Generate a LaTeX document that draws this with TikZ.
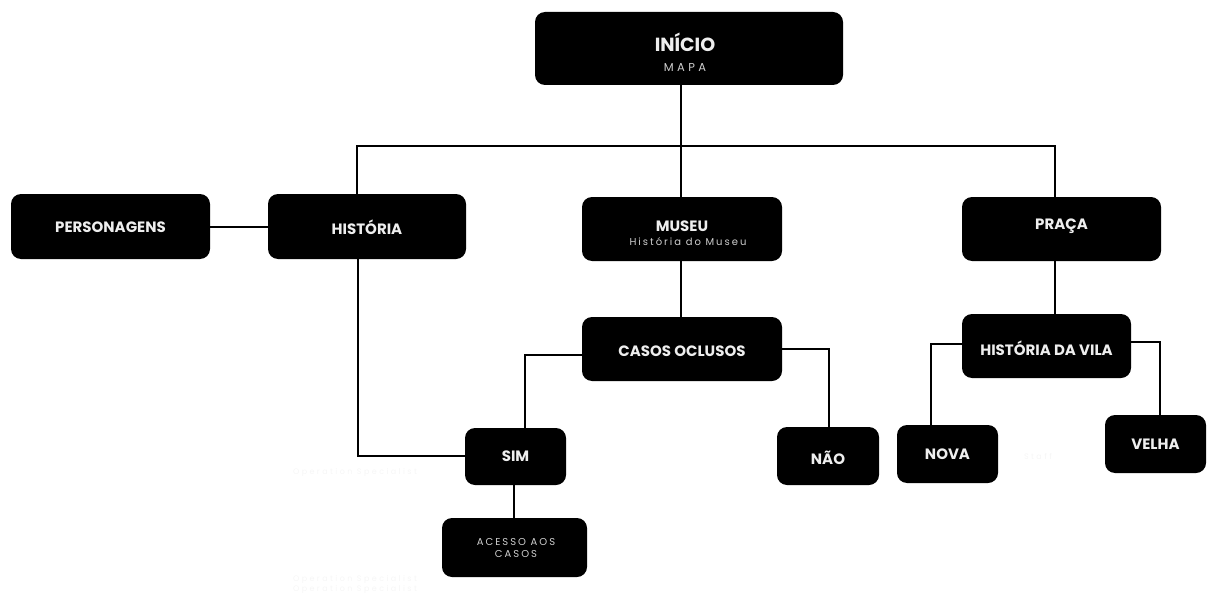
\documentclass[tikz,border=0pt]{standalone}
\usepackage{fontspec}
\setmainfont{Poppins}
\definecolor{lbl}{HTML}{EEEEEE}
\definecolor{sub}{HTML}{CFCFCF}
\definecolor{faint}{HTML}{F6F6F6}
\begin{document}
\begin{tikzpicture}[x=1pt,y=-1pt,
  box/.style={fill=black, rounded corners=10pt, inner sep=0pt},
  title/.style={text=lbl, font=\fontsize{15}{15}\selectfont\bfseries, inner sep=0pt},
  subt/.style={text=sub, font=\fontsize{10}{12}\selectfont\addfontfeatures{LetterSpace=20}, inner sep=0pt, align=center},
  ghost/.style={text=faint, font=\fontsize{8}{10}\selectfont\addfontfeatures{LetterSpace=30}, inner sep=0pt, align=center},
  conn/.style={draw=black, line width=2pt}]
\useasboundingbox (0,0) rectangle (1207,599);

% boxes
\node[box, minimum width=308pt, minimum height=73pt] (inicio) at (689,48.5) {};
\node[box, minimum width=199pt, minimum height=65pt] (personagens) at (110.5,226.5) {};
\node[box, minimum width=198pt, minimum height=65pt] (historia) at (367,226.5) {};
\node[box, minimum width=200pt, minimum height=64pt] (museu) at (682,229) {};
\node[box, minimum width=199pt, minimum height=64pt] (praca) at (1061.5,229) {};
\node[box, minimum width=200pt, minimum height=64pt] (casos) at (682,349) {};
\node[box, minimum width=169pt, minimum height=64pt] (vila) at (1046.5,346) {};
\node[box, minimum width=101pt, minimum height=57pt] (sim) at (515.5,456.5) {};
\node[box, minimum width=102pt, minimum height=58pt] (nao) at (828,456) {};
\node[box, minimum width=101pt, minimum height=58pt] (nova) at (947.5,454) {};
\node[box, minimum width=101pt, minimum height=58pt] (velha) at (1155.5,444) {};
\node[box, minimum width=145pt, minimum height=59pt] (acesso) at (514.5,547.5) {};

% labels
\node[title, font=\fontsize{19}{19}\selectfont\bfseries] (inicioT) at (685,42) {INÍCIO};
\node[subt, font=\fontsize{11.5}{12}\selectfont\addfontfeatures{LetterSpace=30}] (inicioS) at (685,67) {MAPA};
\node[title] (personagensT) at (110.5,227.5) {PERSONAGENS};
\node[title] (historiaT) at (367,227.5) {HISTÓRIA};
\node[title] (museuT) at (682,226) {MUSEU};
\node[subt] (museuS) at (688,242) {História do Museu};
\node[title] (pracaT) at (1061.5,226) {PRAÇA};
\node[title] (casosT) at (682,351.5) {CASOS OCLUSOS};
\node[title] (vilaT) at (1046.5,348) {HISTÓRIA DA VILA};
\node[title] (simT) at (515.5,456) {SIM};
\node[title] (naoT) at (828,458) {NÃO};
\node[title] (novaT) at (947.5,454.5) {NOVA};
\node[title] (velhaT) at (1155.5,444) {VELHA};
\node[subt] (acessoT) at (516,547.5) {ACESSO AOS\\CASOS};

% faint texts
\node[ghost] (g1) at (355,472) {Operation Specialist};
\node[ghost] (g2) at (355,584) {Operation Specialist\\Operation Specialist};
\node[ghost] (g3) at (1038,456) {Staff};

% connector points
\coordinate (hL) at (357,146);
\coordinate (hM) at (681,146);
\coordinate (hR) at (1055,146);
\coordinate (cL) at (525,355);
\coordinate (cR) at (829,349);
\coordinate (hs) at (358,456);
\coordinate (vL) at (931,344);
\coordinate (vR) at (1160,342);
\coordinate (sa) at (514,0);

% connectors
\draw[conn] (inicio.south -| hM) -- (museu.north -| hM);
\draw[conn] (historia.north -| hL) -- (hL) -- (hR) -- (praca.north -| hR);
\draw[conn] (personagens.east) -- (historia.west);
\draw[conn] (museu.south -| hM) -- (casos.north -| hM);
\draw[conn] (casos.west |- cL) -- (cL) -- (sim.north -| cL);
\draw[conn] (casos.east |- cR) -- (cR) -- (nao.north -| cR);
\draw[conn] (historia.south -| hs) -- (hs) -- (sim.west |- hs);
\draw[conn] (sim.south -| sa) -- (acesso.north -| sa);
\draw[conn] (praca.south -| hR) -- (vila.north -| hR);
\draw[conn] (vila.west |- vL) -- (vL) -- (nova.north -| vL);
\draw[conn] (vila.east |- vR) -- (vR) -- (velha.north -| vR);
\end{tikzpicture}
\end{document}
